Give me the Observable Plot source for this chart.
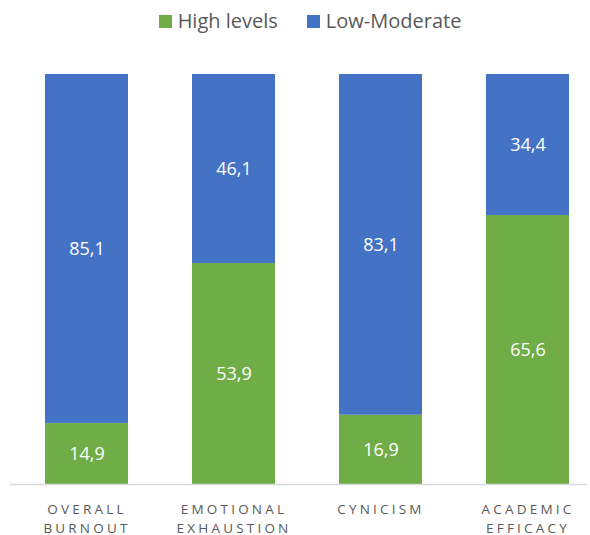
<!DOCTYPE html>
<html><head><meta charset="utf-8">
<script src="https://cdn.jsdelivr.net/npm/d3@7"></script>
<script src="https://cdn.jsdelivr.net/npm/@observablehq/plot@0.6"></script>
<style>
body{margin:0;background:#fff;font-family:"Open Sans","Noto Sans",sans-serif;}
#legend{height:40px;display:flex;justify-content:center;align-items:center;gap:29px;font-size:20px;color:#595959;padding-left:30px;box-sizing:border-box;}
#legend span.sw{display:inline-block;width:13px;height:13px;margin-right:6px;vertical-align:middle;position:relative;top:-1px}
g[aria-label="x-axis tick label"] text{letter-spacing:3.2px;}
</style></head>
<body>
<div id="legend"></div>
<div id="chart"></div>
<script>
const categories = ["Overall burnout","Emotional exhaustion","Cynicism","Academic efficacy"];
const tickLabels = ["OVERALL\nBURNOUT","EMOTIONAL\nEXHAUSTION","CYNICISM","ACADEMIC\nEFFICACY"];
const seriesNames = ["High levels","Low-Moderate"];
const highLevels = [14.9,53.9,16.9,65.6];
const lowModerate = [85.1,46.1,83.1,34.4];
const colors = ["#70AD47","#4472C4"];

const data = [];
categories.forEach((c,i)=>{
  data.push({category:c, series:seriesNames[0], value:highLevels[i]});
  data.push({category:c, series:seriesNames[1], value:lowModerate[i]});
});

const leg = document.getElementById("legend");
seriesNames.forEach((s,i)=>{
  const d = document.createElement("div");
  d.innerHTML = `<span class="sw" style="background:${colors[i]}"></span>${s}`;
  leg.appendChild(d);
});

const fmt = v => v.toFixed(1).replace(".", ",");
const chart = Plot.plot({
  width:590, height:495,
  marginTop:34, marginBottom:51, marginLeft:10, marginRight:3,
  style:{fontFamily:"'Open Sans','Noto Sans',sans-serif", background:"#fff"},
  x:{domain:categories, paddingInner:0.433, paddingOuter:0.175, align:0.66, label:null},
  y:{domain:[0,100], axis:null},
  color:{domain:seriesNames, range:colors},
  axis:null,
  marks:[
    Plot.barY(data, Plot.stackY({x:"category", y:"value", fill:"series", order:seriesNames})),
    Plot.ruleY([0], {stroke:"#d9d9d9", strokeWidth:1.5}),
    Plot.text(data, Plot.stackY({x:"category", y:"value", z:"series", order:seriesNames, text:d=>fmt(d.value), fill:"white", fontSize:18})),
    Plot.axisX({tickSize:0, tickPadding:17, fontSize:13.5, color:"#595959", lineHeight:1.35, label:null, textAnchor:"middle",
      tickFormat:(d)=>tickLabels[categories.indexOf(d)]})
  ]
});
document.getElementById("chart").appendChild(chart);
</script>
</body></html>
